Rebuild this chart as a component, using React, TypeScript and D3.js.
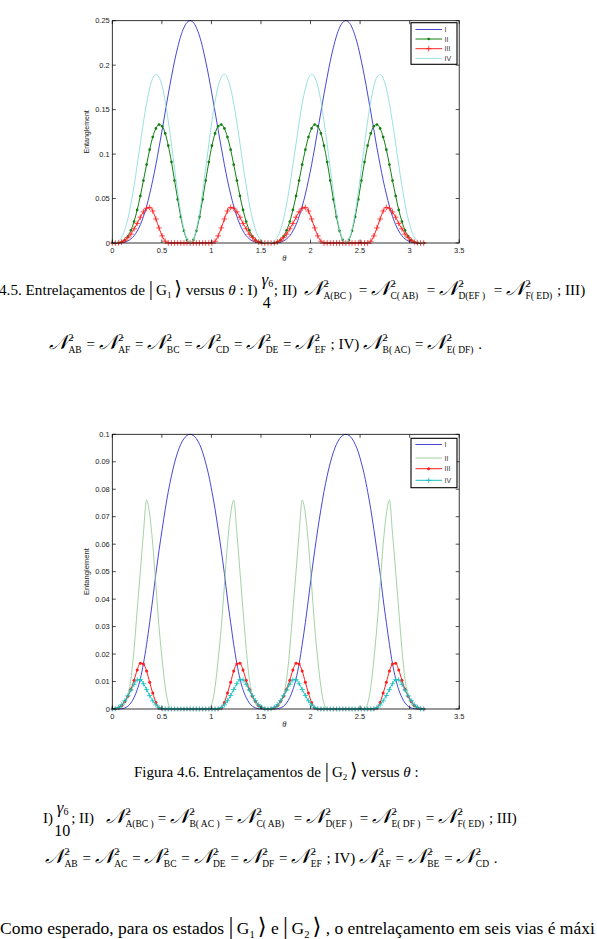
import React from 'react';
import * as d3 from 'd3';

// theta grid (pi/100 steps)
const theta = [
  0, 0.031, 0.063, 0.094, 0.126, 0.157, 0.188, 0.22, 0.251, 0.283, 0.314, 0.346, 0.377, 0.408, 0.44, 0.471,
  0.503, 0.534, 0.565, 0.597, 0.628, 0.66, 0.691, 0.723, 0.754, 0.785, 0.817, 0.848, 0.88, 0.911, 0.942,
  0.974, 1.005, 1.037, 1.068, 1.1, 1.131, 1.162, 1.194, 1.225, 1.257, 1.288, 1.319, 1.351, 1.382, 1.414,
  1.445, 1.477, 1.508, 1.539, 1.571, 1.602, 1.634, 1.665, 1.696, 1.728, 1.759, 1.791, 1.822, 1.854, 1.885,
  1.916, 1.948, 1.979, 2.011, 2.042, 2.073, 2.105, 2.136, 2.168, 2.199, 2.231, 2.262, 2.293, 2.325, 2.356,
  2.388, 2.419, 2.45, 2.482, 2.513, 2.545, 2.576, 2.608, 2.639, 2.67, 2.702, 2.733, 2.765, 2.796, 2.827,
  2.859, 2.89, 2.922, 2.953, 2.985, 3.016, 3.047, 3.079, 3.11, 3.142,
];

// Figure 4.5 (|G1>)
const g1I = [
  0, 0, 0.0001, 0.0003, 0.001, 0.0023, 0.0046, 0.0082, 0.0135, 0.0206, 0.0298, 0.0413, 0.0549, 0.0706, 0.0881, 0.1071, 0.1271, 0.1474, 0.1676, 0.1868, 0.2045, 0.2201, 0.2328, 0.2422, 0.2481, 0.25,
  0.2481, 0.2422, 0.2328, 0.2201, 0.2045, 0.1868, 0.1676, 0.1474, 0.1271, 0.1071, 0.0881, 0.0706, 0.0549, 0.0413, 0.0298, 0.0206, 0.0135, 0.0082, 0.0046, 0.0023, 0.001, 0.0003, 0.0001, 0, 0,
  0, 0.0001, 0.0003, 0.001, 0.0023, 0.0046, 0.0082, 0.0135, 0.0206, 0.0298, 0.0413, 0.0549, 0.0706, 0.0881, 0.1071, 0.1271, 0.1474, 0.1676, 0.1868, 0.2045, 0.2201, 0.2328, 0.2422, 0.2481, 0.25,
  0.2481, 0.2422, 0.2328, 0.2201, 0.2045, 0.1868, 0.1676, 0.1474, 0.1271, 0.1071, 0.0881, 0.0706, 0.0549, 0.0413, 0.0298, 0.0206, 0.0135, 0.0082, 0.0046, 0.0023, 0.001, 0.0003, 0.0001, 0, 0,
];
const g1II = [
  0, 0, 0.0002, 0.0011, 0.0032, 0.0074, 0.0143, 0.0242, 0.0372, 0.0529, 0.0703, 0.0882, 0.105, 0.1191, 0.1289, 0.1332, 0.1313, 0.1232, 0.1094, 0.0911, 0.0703, 0.049, 0.0294, 0.0137, 0.0035, 0,
  0.0035, 0.0137, 0.0294, 0.049, 0.0703, 0.0911, 0.1094, 0.1232, 0.1313, 0.1332, 0.1289, 0.1191, 0.105, 0.0882, 0.0703, 0.0529, 0.0372, 0.0242, 0.0143, 0.0074, 0.0032, 0.0011, 0.0002, 0, 0,
  0, 0.0002, 0.0011, 0.0032, 0.0074, 0.0143, 0.0242, 0.0372, 0.0529, 0.0703, 0.0882, 0.105, 0.1191, 0.1289, 0.1332, 0.1313, 0.1232, 0.1094, 0.0911, 0.0703, 0.049, 0.0294, 0.0137, 0.0035, 0,
  0.0035, 0.0137, 0.0294, 0.049, 0.0703, 0.0911, 0.1094, 0.1232, 0.1313, 0.1332, 0.1289, 0.1191, 0.105, 0.0882, 0.0703, 0.0529, 0.0372, 0.0242, 0.0143, 0.0074, 0.0032, 0.0011, 0.0002, 0, 0,
];
const g1III = [
  0, 0, 0.0003, 0.001, 0.003, 0.006, 0.01, 0.016, 0.022, 0.029, 0.035, 0.039, 0.04, 0.036, 0.027, 0.017, 0.008, 0.002, 0, 0, 0, 0, 0, 0, 0, 0,
  0, 0, 0, 0, 0, 0, 0, 0.002, 0.008, 0.017, 0.027, 0.036, 0.04, 0.039, 0.035, 0.029, 0.022, 0.016, 0.01, 0.006, 0.003, 0.001, 0.0003, 0, 0,
  0, 0.0003, 0.001, 0.003, 0.006, 0.01, 0.016, 0.022, 0.029, 0.035, 0.039, 0.04, 0.036, 0.027, 0.017, 0.008, 0.002, 0, 0, 0, 0, 0, 0, 0, 0,
  0, 0, 0, 0, 0, 0, 0, 0.002, 0.008, 0.017, 0.027, 0.036, 0.04, 0.039, 0.035, 0.029, 0.022, 0.016, 0.01, 0.006, 0.003, 0.001, 0.0003, 0, 0,
];
const g1IV = [
  0, 0.0003, 0.002, 0.0065, 0.0147, 0.0272, 0.044, 0.0645, 0.0876, 0.1119, 0.1356, 0.1568, 0.1739, 0.1852, 0.1896, 0.1866, 0.1763, 0.1593, 0.137, 0.1111, 0.0838, 0.0573, 0.0339, 0.0156, 0.004, 0,
  0.004, 0.0156, 0.0339, 0.0573, 0.0838, 0.1111, 0.137, 0.1593, 0.1763, 0.1866, 0.1896, 0.1852, 0.1739, 0.1568, 0.1356, 0.1119, 0.0876, 0.0645, 0.044, 0.0272, 0.0147, 0.0065, 0.002, 0.0003, 0,
  0.0003, 0.002, 0.0065, 0.0147, 0.0272, 0.044, 0.0645, 0.0876, 0.1119, 0.1356, 0.1568, 0.1739, 0.1852, 0.1896, 0.1866, 0.1763, 0.1593, 0.137, 0.1111, 0.0838, 0.0573, 0.0339, 0.0156, 0.004, 0,
  0.004, 0.0156, 0.0339, 0.0573, 0.0838, 0.1111, 0.137, 0.1593, 0.1763, 0.1866, 0.1896, 0.1852, 0.1739, 0.1568, 0.1356, 0.1119, 0.0876, 0.0645, 0.044, 0.0272, 0.0147, 0.0065, 0.002, 0.0003, 0,
];

// Figure 4.6 (|G2>)
const g2I = [
  0, 0, 0, 0.0001, 0.0004, 0.001, 0.0022, 0.0042, 0.007, 0.011, 0.0165, 0.0235, 0.0315, 0.04, 0.0493, 0.0576, 0.0654, 0.0727, 0.0792, 0.0849, 0.0896, 0.0935, 0.0964, 0.0984, 0.0996, 0.1,
  0.0996, 0.0984, 0.0964, 0.0935, 0.0896, 0.0849, 0.0792, 0.0727, 0.0654, 0.0576, 0.0493, 0.04, 0.0315, 0.0235, 0.0165, 0.011, 0.007, 0.0042, 0.0022, 0.001, 0.0004, 0.0001, 0, 0, 0,
  0, 0, 0.0001, 0.0004, 0.001, 0.0022, 0.0042, 0.007, 0.011, 0.0165, 0.0235, 0.0315, 0.04, 0.0493, 0.0576, 0.0654, 0.0727, 0.0792, 0.0849, 0.0896, 0.0935, 0.0964, 0.0984, 0.0996, 0.1,
  0.0996, 0.0984, 0.0964, 0.0935, 0.0896, 0.0849, 0.0792, 0.0727, 0.0654, 0.0576, 0.0493, 0.04, 0.0315, 0.0235, 0.0165, 0.011, 0.007, 0.0042, 0.0022, 0.001, 0.0004, 0.0001, 0, 0, 0,
];
const g2II = [
  0, 0, 0.0001, 0.0005, 0.002, 0.005, 0.011, 0.022, 0.036, 0.05, 0.064, 0.076, 0.071, 0.06, 0.045, 0.03, 0.018, 0.008, 0.002, 0, 0, 0, 0, 0, 0, 0,
  0, 0, 0, 0, 0, 0, 0.002, 0.008, 0.018, 0.03, 0.045, 0.06, 0.071, 0.076, 0.064, 0.05, 0.036, 0.022, 0.011, 0.005, 0.002, 0.0005, 0.0001, 0, 0,
  0, 0.0001, 0.0005, 0.002, 0.005, 0.011, 0.022, 0.036, 0.05, 0.064, 0.076, 0.071, 0.06, 0.045, 0.03, 0.018, 0.008, 0.002, 0, 0, 0, 0, 0, 0, 0,
  0, 0, 0, 0, 0, 0, 0.002, 0.008, 0.018, 0.03, 0.045, 0.06, 0.071, 0.076, 0.064, 0.05, 0.036, 0.022, 0.011, 0.005, 0.002, 0.0005, 0.0001, 0, 0,
];
const g2III = [
  0, 0.0001, 0.0005, 0.0013, 0.0027, 0.0046, 0.0072, 0.0105, 0.0142, 0.0167, 0.0164, 0.0138, 0.0097, 0.0058, 0.0024, 0.0004, 0, 0, 0, 0, 0, 0, 0, 0, 0, 0,
  0, 0, 0, 0, 0, 0, 0, 0, 0, 0.0004, 0.0024, 0.0058, 0.0097, 0.0138, 0.0164, 0.0167, 0.0142, 0.0105, 0.0072, 0.0046, 0.0027, 0.0013, 0.0005, 0.0001, 0,
  0.0001, 0.0005, 0.0013, 0.0027, 0.0046, 0.0072, 0.0105, 0.0142, 0.0167, 0.0164, 0.0138, 0.0097, 0.0058, 0.0024, 0.0004, 0, 0, 0, 0, 0, 0, 0, 0, 0, 0,
  0, 0, 0, 0, 0, 0, 0, 0, 0, 0.0004, 0.0024, 0.0058, 0.0097, 0.0138, 0.0164, 0.0167, 0.0142, 0.0105, 0.0072, 0.0046, 0.0027, 0.0013, 0.0005, 0.0001, 0,
];
const g2IV = [
  0, 0.0001, 0.0006, 0.0015, 0.003, 0.0048, 0.0069, 0.009, 0.0106, 0.0107, 0.0092, 0.0071, 0.0049, 0.003, 0.0015, 0.0005, 0.0001, 0, 0, 0, 0, 0, 0, 0, 0, 0,
  0, 0, 0, 0, 0, 0, 0, 0, 0.0001, 0.0005, 0.0015, 0.003, 0.0049, 0.0071, 0.0092, 0.0107, 0.0106, 0.009, 0.0069, 0.0048, 0.003, 0.0015, 0.0006, 0.0001, 0,
  0.0001, 0.0006, 0.0015, 0.003, 0.0048, 0.0069, 0.009, 0.0106, 0.0107, 0.0092, 0.0071, 0.0049, 0.003, 0.0015, 0.0005, 0.0001, 0, 0, 0, 0, 0, 0, 0, 0, 0,
  0, 0, 0, 0, 0, 0, 0, 0, 0.0001, 0.0005, 0.0015, 0.003, 0.0049, 0.0071, 0.0092, 0.0107, 0.0106, 0.009, 0.0069, 0.0048, 0.003, 0.0015, 0.0006, 0.0001, 0,
];

const xTicks = [0, 0.5, 1, 1.5, 2, 2.5, 3, 3.5];
const yTicks1 = [0, 0.05, 0.1, 0.15, 0.2, 0.25];
const yTicks2 = [0, 0.01, 0.02, 0.03, 0.04, 0.05, 0.06, 0.07, 0.08, 0.09, 0.1];
const legendLabels = ['I', 'II', 'III', 'IV'];

const sans = "'Liberation Sans', Arial, sans-serif";
const serif = "'Liberation Serif', 'Times New Roman', serif";

type Series = { values: number[]; color: string; width: number; marker?: 'dot' | 'plus'; r?: number };

function Marker({ kind, cx, cy, color, r }: { kind: 'dot' | 'plus'; cx: number; cy: number; color: string; r: number }) {
  if (kind === 'dot') return <circle cx={cx} cy={cy} r={r} fill={color} />;
  return <path d={`M${cx - r},${cy}H${cx + r}M${cx},${cy - r}V${cy + r}`} stroke={color} strokeWidth={0.8} fill="none" />;
}

function Chart({ top, bottom, yMax, yTicks, series, legendBox, legendRows, yLabelSize }: {
  top: number; bottom: number; yMax: number; yTicks: number[]; series: Series[];
  legendBox: number[]; legendRows: number[]; yLabelSize: number;
}) {
  const left = 112.3, right = 459.2;
  const x = d3.scaleLinear().domain([0, 3.5]).range([left, right]);
  const y = d3.scaleLinear().domain([0, yMax]).range([bottom, top]);
  const line = d3.line<number>().x((_, i) => x(theta[i])).y(d => y(d)).curve(d3.curveMonotoneX);
  const tk = 3.5;
  const [lx0, ly0, lx1, ly1] = legendBox;
  return (
    <g>
      <rect x={left} y={top} width={right - left} height={bottom - top} fill="#fff" />
      {series.map((s, si) => (
        <g key={si}>
          <path d={line(s.values) ?? ''} fill="none" stroke={s.color} strokeWidth={s.width} />
          {s.marker && s.values.map((v, i) => (
            <Marker key={i} kind={s.marker!} cx={x(theta[i])} cy={y(v)} color={s.color} r={s.r ?? 1.3} />
          ))}
        </g>
      ))}
      <rect x={left} y={top} width={right - left} height={bottom - top} fill="none" stroke="#000" strokeWidth={0.8} />
      {xTicks.map(t => (
        <g key={t}>
          <line x1={x(t)} x2={x(t)} y1={bottom} y2={bottom - tk} stroke="#000" strokeWidth={0.7} />
          <line x1={x(t)} x2={x(t)} y1={top} y2={top + tk} stroke="#000" strokeWidth={0.7} />
          <text x={x(t)} y={bottom + 9.5} textAnchor="middle" fontSize={7.5} fontFamily={sans} fill="#222">{t}</text>
        </g>
      ))}
      {yTicks.map(t => (
        <g key={t}>
          <line x1={left} x2={left + tk} y1={y(t)} y2={y(t)} stroke="#000" strokeWidth={0.7} />
          <line x1={right} x2={right - tk} y1={y(t)} y2={y(t)} stroke="#000" strokeWidth={0.7} />
          <text x={left - 2.5} y={y(t) + 2.7} textAnchor="end" fontSize={7.5} fontFamily={sans} fill="#222">{t}</text>
        </g>
      ))}
      <text transform={`translate(88.5,${(top + bottom) / 2}) rotate(-90)`} textAnchor="middle" fontSize={yLabelSize}
        fontFamily={sans} fill="#222">Entanglement</text>
      <text x={(left + right) / 2 - 1.5} y={bottom + 18} textAnchor="middle" fontSize={8.5} fontStyle="italic"
        fontFamily={serif} fill="#222">θ</text>
      <rect x={lx0} y={ly0} width={lx1 - lx0} height={ly1 - ly0} fill="#fff" stroke="#000" strokeWidth={1.1} />
      {series.map((s, i) => (
        <g key={i}>
          <line x1={lx0 + 4.5} x2={lx0 + 31} y1={legendRows[i]} y2={legendRows[i]} stroke={s.color} strokeWidth={s.width} />
          {s.marker && <Marker kind={s.marker} cx={lx0 + 17.7} cy={legendRows[i]} color={s.color} r={s.r ?? 1.3} />}
          <text x={lx0 + 33.5} y={legendRows[i] + 2.5} fontSize={7} fontFamily={sans} fill="#333">{legendLabels[i]}</text>
        </g>
      ))}
    </g>
  );
}

function ket(n: string, k: string, fs = 15) {
  return [
    <tspan key={k + 'a'} fontSize={fs * 1.4}>|</tspan>,
    <tspan key={k + 'b'} dx={fs * 0.2}>G</tspan>,
    <tspan key={k + 'c'} fontSize={fs * 0.6} dy={fs * 0.2}>{n}</tspan>,
    <tspan key={k + 'd'} fontSize={fs * 1.3} dy={-fs * 0.2} dx={fs * 0.17} fontFamily="'DejaVu Serif'">⟩</tspan>,
  ];
}

// script N with stacked superscript 2 and subscript; x pins the glyph, ax pins the text after it
function nsq(sub: string, after: string, k: string, x?: number, ax?: number) {
  return [
    <tspan key={k + 'n'} x={x} fontSize={20} fontStyle="italic" fontFamily="'DejaVu Serif'">𝒩</tspan>,
    <tspan key={k + 's'} fontSize={10} dy={-8.5} dx={0.5}>2</tspan>,
    <tspan key={k + 'b'} fontSize={9.5} dx={-5} dy={12.5}>{sub}</tspan>,
    <tspan key={k + 'r'} x={ax} dx={ax === undefined ? 1 : 0} dy={-4}>{after}</tspan>,
  ];
}

function frac(den: string, denDx: number, afterDx: number, after: string, k: string) {
  return [
    <tspan key={k + 'g'} fontSize={17} fontStyle="italic" dy={-10}>γ</tspan>,
    <tspan key={k + '6'} fontSize={10} dy={2}>6</tspan>,
    <tspan key={k + 'd'} fontSize={16} dx={denDx} dy={21}>{den}</tspan>,
    <tspan key={k + 'a'} dx={afterDx} dy={-13}>{after}</tspan>,
  ];
}

function Line({ x, y, fs = 15, children }: { x: number; y: number; fs?: number; children: React.ReactNode }) {
  return (
    <text x={x} y={y} fontSize={fs} fontFamily={serif} fill="#000" style={{ whiteSpace: 'pre' }}>{children}</text>
  );
}

export default function App() {
  const chart1: Series[] = [
    { values: g1I, color: '#3232d2', width: 0.9 },
    { values: g1II, color: '#137f13', width: 1, marker: 'dot', r: 1.35 },
    { values: g1III, color: '#ff2020', width: 1, marker: 'plus', r: 2.8 },
    { values: g1IV, color: '#8fdcdc', width: 0.9 },
  ];
  const chart2: Series[] = [
    { values: g2I, color: '#3232d2', width: 0.9 },
    { values: g2II, color: '#8cc68c', width: 0.8 },
    { values: g2III, color: '#ff1c1c', width: 1, marker: 'dot', r: 1.5 },
    { values: g2IV, color: '#14c0c0', width: 1, marker: 'plus', r: 2.6 },
  ];
  return (
    <svg width={597} height={939} style={{ position: 'absolute', left: 0, top: 0, background: '#fff' }}>
      <rect x={0} y={0} width={597} height={939} fill="#fff" />
      <Chart top={20.7} bottom={243} yMax={0.25} yTicks={yTicks1} series={chart1}
        legendBox={[411, 22.7, 457, 64.3]} legendRows={[29.5, 39, 48.7, 58.3]} yLabelSize={7} />
      <Chart top={434.3} bottom={709} yMax={0.1} yTicks={yTicks2} series={chart2}
        legendBox={[411, 438.3, 457, 487.7]} legendRows={[444.5, 458, 468.7, 480.3]} yLabelSize={7.6} />

      <Line x={-1} y={295} fs={15.2}>
        {'4.5. Entrelaçamentos de '}
        {ket('1', 'k1', 15.2)}
        {' versus '}
        <tspan fontStyle="italic">θ</tspan>
        {' : I) '}
        {frac('4', -10.3, 3, '; II) ', 'f1')}
        {nsq('A(BC )', ' = ', 'a1', 304, 355)}
        {nsq('C( AB)', ' = ', 'a2', 371, 423)}
        {nsq('D(EF )', ' = ', 'a3', 439, 490)}
        {nsq('F( ED)', ' ; III)', 'a4', 506)}
      </Line>
      <Line x={49} y={349}>
        {nsq('AB', ' = ', 'b1')}
        {nsq('AF', ' = ', 'b2')}
        {nsq('BC', ' = ', 'b3')}
        {nsq('CD', ' = ', 'b4')}
        {nsq('DE', ' = ', 'b5')}
        {nsq('EF', ' ; IV) ', 'b6')}
        {nsq('B( AC)', ' = ', 'b7')}
        {nsq('E( DF)', ' .', 'b8')}
      </Line>

      <Line x={134} y={777}>
        {'Figura 4.6. Entrelaçamentos de '}
        {ket('2', 'k2')}
        {' versus '}
        <tspan fontStyle="italic">θ</tspan>
        {' :'}
      </Line>
      <Line x={43} y={823}>
        {'I) '}
        {frac('10', -14.3, 1, '; II) ', 'f2')}
        {nsq('A(BC )', ' = ', 'c1', 106, 154)}
        {nsq('B( AC )', ' = ', 'c2', 170, 221)}
        {nsq('C( AB)', ' = ', 'c3', 237, 290)}
        {nsq('D(EF )', ' = ', 'c4', 306, 356)}
        {nsq('E( DF )', ' = ', 'c5', 372, 422)}
        {nsq('F( ED)', ' ; III)', 'c6', 438)}
      </Line>
      <Line x={45} y={863}>
        {nsq('AB', ' = ', 'd1')}
        {nsq('AC', ' = ', 'd2')}
        {nsq('BC', ' = ', 'd3')}
        {nsq('DE', ' = ', 'd4')}
        {nsq('DF', ' = ', 'd5')}
        {nsq('EF', ' ; IV) ', 'd6')}
        {nsq('AF', ' = ', 'd7')}
        {nsq('BE', ' = ', 'd8')}
        {nsq('CD', ' .', 'd9')}
      </Line>
      <Line x={0} y={934} fs={17.5}>
        {'Como esperado, para os estados '}
        {ket('1', 'k3', 17.5)}
        {' e '}
        {ket('2', 'k4', 17.5)}
        {' , o entrelaçamento em seis vias é máxi'}
      </Line>
    </svg>
  );
}
